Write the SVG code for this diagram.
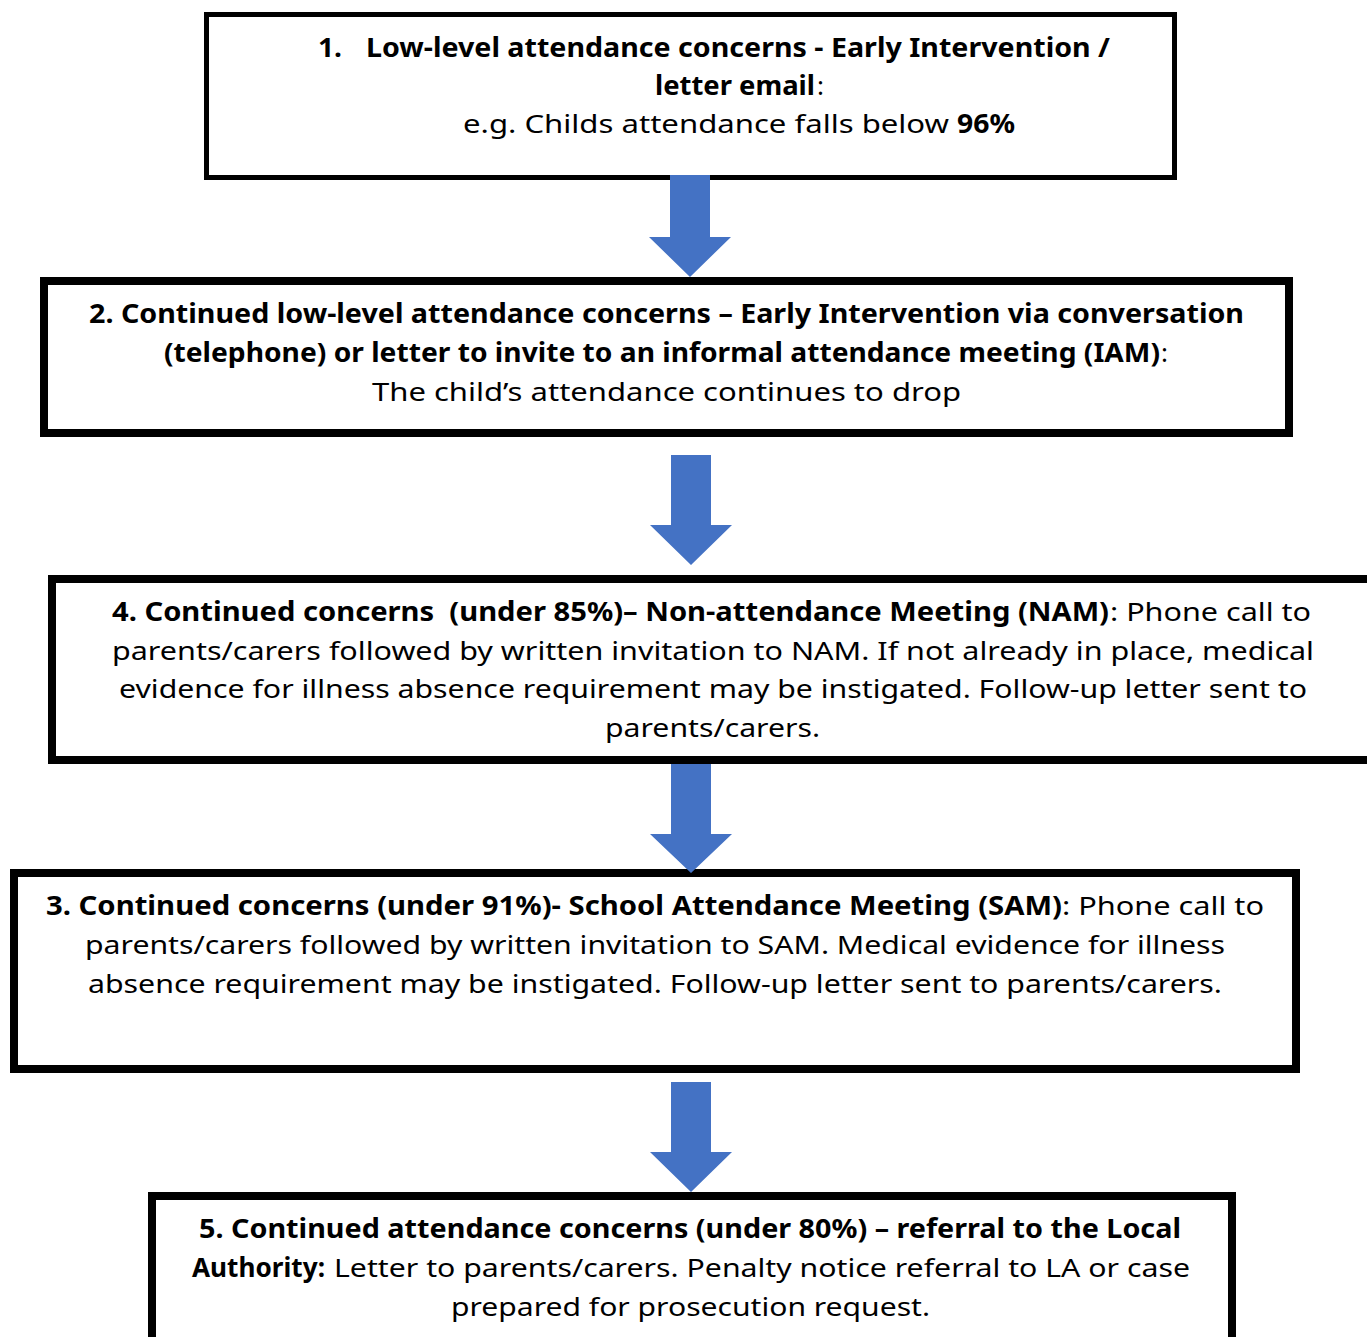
<svg xmlns="http://www.w3.org/2000/svg" width="1367" height="1337" viewBox="0 0 1367 1337">
<style>
.box{fill:#fff;stroke:#000;stroke-width:8}
.t{font-family:"Noto Sans","DejaVu Sans",sans-serif;font-size:26px;fill:#000;white-space:pre}
.b{font-weight:bold}
.arrow{fill:#4472C4}
</style>
<rect width="1367" height="1337" fill="#fff"/>
<g id="node1">
<rect class="box" x="206.5" y="14.5" width="968" height="163" style="stroke-width:5"/>
<text class="t b" x="318" y="57" textLength="24" lengthAdjust="spacingAndGlyphs">1.</text>
<text class="t b" x="366" y="57" textLength="744" lengthAdjust="spacingAndGlyphs">Low-level attendance concerns - Early Intervention /</text>
<text class="t b" x="655" y="95" textLength="160" lengthAdjust="spacingAndGlyphs">letter email</text>
<text class="t" x="817" y="95">:</text>
<text class="t" x="463" y="133" textLength="486" lengthAdjust="spacingAndGlyphs">e.g. Childs attendance falls below</text>
<text class="t b" x="957" y="133" textLength="58" lengthAdjust="spacingAndGlyphs">96%</text>
</g>
<g id="node2">
<rect class="box" x="44" y="281" width="1245" height="152"/>
<text class="t b" x="89" y="323" textLength="1155" lengthAdjust="spacingAndGlyphs">2. Continued low-level attendance concerns – Early Intervention via conversation</text>
<text class="t b" x="164" y="362" textLength="996" lengthAdjust="spacingAndGlyphs">(telephone) or letter to invite to an informal attendance meeting (IAM)</text>
<text class="t" x="1161" y="362">:</text>
<text class="t" x="372" y="401" textLength="589" lengthAdjust="spacingAndGlyphs">The child’s attendance continues to drop</text>
</g>
<g id="node4">
<rect class="box" x="52" y="579" width="1400" height="181"/>
<text class="t b" x="112" y="621" textLength="997" lengthAdjust="spacingAndGlyphs">4. Continued concerns  (under 85%)– Non-attendance Meeting (NAM)</text>
<text class="t" x="1110" y="621" textLength="201" lengthAdjust="spacingAndGlyphs">: Phone call to</text>
<text class="t" x="112" y="660" textLength="1202" lengthAdjust="spacingAndGlyphs">parents/carers followed by written invitation to NAM. If not already in place, medical</text>
<text class="t" x="119" y="698" textLength="1188" lengthAdjust="spacingAndGlyphs">evidence for illness absence requirement may be instigated. Follow-up letter sent to</text>
<text class="t" x="605" y="737" textLength="215" lengthAdjust="spacingAndGlyphs">parents/carers.</text>
</g>
<g id="node3">
<rect class="box" x="14" y="873" width="1282" height="196"/>
<text class="t b" x="46" y="915" textLength="1016" lengthAdjust="spacingAndGlyphs">3. Continued concerns (under 91%)- School Attendance Meeting (SAM)</text>
<text class="t" x="1062" y="915" textLength="202" lengthAdjust="spacingAndGlyphs">: Phone call to</text>
<text class="t" x="85" y="954" textLength="1140" lengthAdjust="spacingAndGlyphs">parents/carers followed by written invitation to SAM. Medical evidence for illness</text>
<text class="t" x="88" y="993" textLength="1134" lengthAdjust="spacingAndGlyphs">absence requirement may be instigated. Follow-up letter sent to parents/carers.</text>
</g>
<g id="node5">
<rect class="box" x="152" y="1196" width="1080" height="200"/>
<text class="t b" x="199" y="1238" textLength="982" lengthAdjust="spacingAndGlyphs">5. Continued attendance concerns (under 80%) – referral to the Local</text>
<text class="t b" x="192" y="1277" textLength="133" lengthAdjust="spacingAndGlyphs">Authority:</text>
<text class="t" x="334" y="1277" textLength="856" lengthAdjust="spacingAndGlyphs">Letter to parents/carers. Penalty notice referral to LA or case</text>
<text class="t" x="451" y="1316" textLength="479" lengthAdjust="spacingAndGlyphs">prepared for prosecution request.</text>
</g>
<g id="connectors">
<polygon class="arrow" points="670,175 710,175 710,237 731,237 690,277 649,237 670,237"/>
<polygon class="arrow" points="671,455 711,455 711,525 732,525 691,565 650,525 671,525"/>
<polygon class="arrow" points="671,764 711,764 711,834 732,834 691,873 650,834 671,834"/>
<polygon class="arrow" points="671,1082 711,1082 711,1152 732,1152 691,1192 650,1152 671,1152"/>
</g>
</svg>
